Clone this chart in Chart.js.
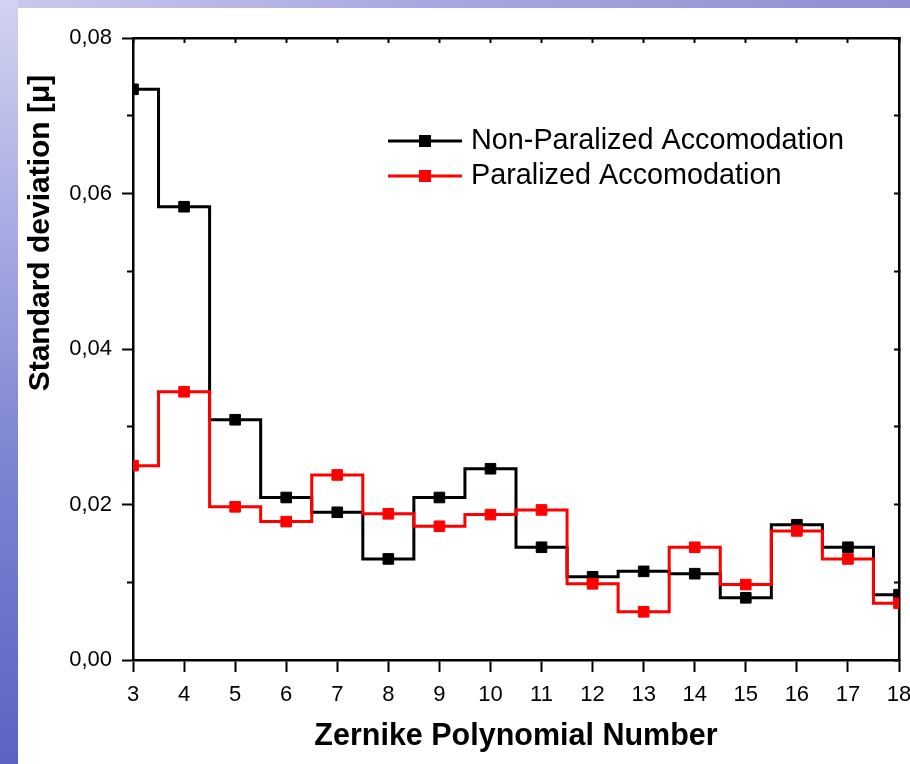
<!DOCTYPE html>
<html>
<head>
<meta charset="utf-8">
<title>Zernike standard deviation</title>
<script src="https://cdn.jsdelivr.net/npm/chart.js@4"></script>
<style>
  html, body { margin: 0; padding: 0; }
  body { width: 910px; height: 764px; position: relative; overflow: hidden; background: #ffffff; }
  #stripTop { position: absolute; left: 0; top: 0; width: 910px; height: 8px;
    background: linear-gradient(to right, #c9c9ef, #a9a9e0 45%, #8f8fd2); }
  #stripLeft { position: absolute; left: 0; top: 0; width: 18px; height: 764px;
    background: linear-gradient(to bottom, #d2d3f1, #a7abe2 30%, #7d84d2 60%, #5d63c2); }
  #panel { position: absolute; left: 18px; top: 8px; right: 0; bottom: 0; background: #ffffff; }
  #chart { position: absolute; left: 0; top: 0; }
</style>
</head>
<body>
<div id="stripTop"></div>
<div id="stripLeft"></div>
<div id="panel"></div>
<canvas id="chart" width="910" height="764"></canvas>
<script>
// Zernike polynomial index on the horizontal axis
const zernikeNumbers = [3, 4, 5, 6, 7, 8, 9, 10, 11, 12, 13, 14, 15, 16, 17, 18];
// Standard deviation (µ) per polynomial
const nonParalized = [0.0734, 0.0583, 0.0309, 0.0209, 0.0190, 0.0130, 0.0209, 0.0246,
                      0.0145, 0.0107, 0.0114, 0.0111, 0.0080, 0.0174, 0.0145, 0.0084];
const paralized    = [0.0250, 0.0345, 0.0197, 0.0178, 0.0238, 0.0188, 0.0172, 0.0187,
                      0.0193, 0.0098, 0.0062, 0.0145, 0.0097, 0.0166, 0.0130, 0.0073];
const seriesNames = ['Non-Paralized Accomodation', 'Paralized Accomodation'];
// Labelled ticks on the value axis (minor ticks in between are unlabelled)
const yTickValues = [0.00, 0.02, 0.04, 0.06, 0.08];
const yTickLabels = ['0,00', '0,02', '0,04', '0,06', '0,08'];
const xTitle = 'Zernike Polynomial Number';
const yTitle = 'Standard deviation [\u03bc]';

const FONT = "'Liberation Sans', Arial, sans-serif";
const pts = (ys) => zernikeNumbers.map((x, i) => ({ x: x, y: ys[i] }));

function labelFor(v) {
  for (let i = 0; i < yTickValues.length; i++) {
    if (Math.abs(v - yTickValues[i]) < 1e-9) return yTickLabels[i];
  }
  return '';
}
function isMajor(v) { return labelFor(v) !== ''; }

// Rotated value-axis title
const yTitlePlugin = {
  id: 'yTitle',
  afterDraw(chart) {
    const ctx = chart.ctx;
    ctx.save();
    ctx.translate(41, 233);
    ctx.rotate(-Math.PI / 2);
    ctx.font = 'bold 30px ' + FONT;
    ctx.fillStyle = '#000';
    ctx.textAlign = 'center';
    ctx.textBaseline = 'middle';
    ctx.fillText(yTitle, 0, 0);
    ctx.restore();
  }
};

// Legend drawn inside the plot area
const insideLegend = {
  id: 'insideLegend',
  afterDraw(chart) {
    const ctx = chart.ctx;
    const rows = [141, 176];
    ctx.save();
    chart.data.datasets.forEach((ds, i) => {
      const y = rows[i];
      ctx.strokeStyle = ds.borderColor;
      ctx.lineWidth = 3;
      ctx.beginPath();
      ctx.moveTo(388, y);
      ctx.lineTo(462, y);
      ctx.stroke();
      ctx.fillStyle = ds.borderColor;
      ctx.fillRect(425 - 6, y - 6, 12, 12);
      ctx.fillStyle = '#000';
      ctx.font = '28.8px ' + FONT;
      ctx.textAlign = 'left';
      ctx.textBaseline = 'middle';
      ctx.fillText(ds.label, 471, y);
    });
    ctx.restore();
  }
};

new Chart(document.getElementById('chart'), {
  type: 'line',
  data: {
    datasets: [
      {
        label: seriesNames[0],
        data: pts(nonParalized),
        borderColor: '#000000',
        backgroundColor: '#000000',
        borderWidth: 3,
        stepped: 'middle',
        pointStyle: 'rect',
        pointRadius: 7.5,
        pointBorderWidth: 1,
        pointBackgroundColor: '#000000',
        pointBorderColor: '#000000',
        clip: 0,
        order: 1
      },
      {
        label: seriesNames[1],
        data: pts(paralized),
        borderColor: '#ff0000',
        backgroundColor: '#ff0000',
        borderWidth: 3,
        stepped: 'middle',
        pointStyle: 'rect',
        pointRadius: 7.5,
        pointBorderWidth: 1,
        pointBackgroundColor: '#ff0000',
        pointBorderColor: '#ff0000',
        clip: 0,
        order: 0
      }
    ]
  },
  options: {
    responsive: false,
    animation: false,
    events: [],
    layout: { padding: { left: 0, top: 38, right: 11, bottom: 0 } },
    plugins: { legend: { display: false }, tooltip: { enabled: false } },
    scales: {
      x: {
        type: 'linear',
        position: 'bottom',
        min: 3, max: 18,
        ticks: {
          stepSize: 1, autoSkip: false, maxRotation: 0, padding: 10,
          color: '#000', font: { family: FONT, size: 22 }
        },
        grid: { drawOnChartArea: false, tickLength: 12, tickWidth: 2, tickColor: '#000' },
        border: { display: true, color: '#000', width: 2.5 },
        title: {
          display: true, text: xTitle, color: '#000',
          font: { family: FONT, size: 30.5, weight: 'bold' },
          padding: { top: 4, bottom: 9 }
        },
        afterFit(scale) {
          scale.height = 104;
          scale.paddingLeft = 0;
          scale.paddingRight = 0;
        }
      },
      xTop: {
        type: 'linear',
        position: 'top',
        min: 3, max: 18,
        ticks: { stepSize: 1, display: false },
        grid: { drawOnChartArea: false, tickLength: -5, tickWidth: 2, tickColor: '#000' },
        border: { display: true, color: '#000', width: 2.5 },
        afterFit(scale) {
          scale.height = 0;
          scale.paddingLeft = 0;
          scale.paddingRight = 0;
        }
      },
      y: {
        type: 'linear',
        position: 'left',
        min: 0, max: 0.08,
        ticks: {
          stepSize: 0.01, autoSkip: false, padding: 10,
          color: '#000', font: { family: FONT, size: 22 },
          callback: (v) => labelFor(v)
        },
        grid: {
          drawOnChartArea: false, tickLength: 11, tickWidth: 2, tickColor: '#000',
          tickBorderDash: (ctx) => (ctx.tick && isMajor(ctx.tick.value)) ? [] : [0, 5, 20]
        },
        border: { display: true, color: '#000', width: 2.5 },
        afterFit(scale) {
          scale.width = 133;
          scale.paddingTop = 0;
          scale.paddingBottom = 0;
        }
      },
      yRight: {
        type: 'linear',
        position: 'right',
        min: 0, max: 0.08,
        ticks: { stepSize: 0.01, display: false },
        grid: { drawOnChartArea: false, tickLength: -5, tickWidth: 2, tickColor: '#000' },
        border: { display: true, color: '#000', width: 2.5 },
        afterFit(scale) {
          scale.width = 0;
          scale.paddingTop = 0;
          scale.paddingBottom = 0;
        }
      }
    }
  },
  plugins: [yTitlePlugin, insideLegend]
});
</script>
</body>
</html>
